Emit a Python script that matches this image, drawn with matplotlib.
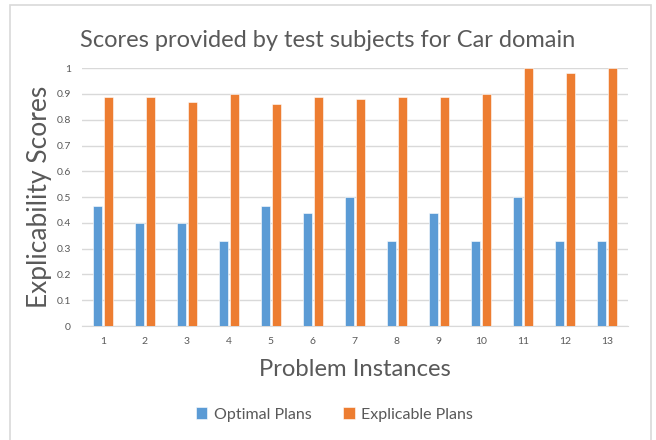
import matplotlib.pyplot as plt
import numpy as np
from matplotlib.patches import Rectangle

# Data
instances = ['1', '2', '3', '4', '5', '6', '7', '8', '9', '10', '11', '12', '13']
optimal = [0.467, 0.40, 0.40, 0.33, 0.467, 0.44, 0.50, 0.33, 0.44, 0.33, 0.50, 0.33, 0.33]
explicable = [0.89, 0.89, 0.87, 0.90, 0.86, 0.89, 0.88, 0.89, 0.89, 0.90, 1.00, 0.98, 1.00]

plt.rcParams['font.family'] = ['Lato', 'DejaVu Sans']
grey = '#595959'

fig = plt.figure(figsize=(6.56, 4.4), dpi=100)
ax = fig.add_axes([0.125, 0.259, 0.832, 0.586])

# Outer chart border like the Excel chart area
fig.patches.append(Rectangle((10 / 656, -0.01), 641 / 656, 1.01 - 5 / 440,
                             transform=fig.transFigure, fill=False,
                             edgecolor='#D9D9D9', linewidth=1.2))

x = np.arange(len(instances))
w = 0.22
ax.bar(x - 0.13, optimal, w, color='#5B9BD5', edgecolor='white', linewidth=0.4,
       label='Optimal Plans', zorder=3)
ax.bar(x + 0.13, explicable, w, color='#ED7D31', edgecolor='white', linewidth=0.4,
       label='Explicable Plans', zorder=3)

ax.set_xlim(-0.5, len(instances) - 0.5)
ax.set_ylim(0, 1.0)
ax.set_yticks(np.arange(0, 1.01, 0.1))
ax.set_yticklabels(['0', '0.1', '0.2', '0.3', '0.4', '0.5', '0.6', '0.7', '0.8', '0.9', '1'])
ax.set_xticks(x)
ax.set_xticklabels(instances)
ax.tick_params(length=0, labelsize=7.5, colors=grey, pad=8)
ax.yaxis.grid(True, color='#D9D9D9', linewidth=1, zorder=0)

for s in ['top', 'right', 'left']:
    ax.spines[s].set_visible(False)
ax.spines['bottom'].set_color('#D9D9D9')

fig.text(0.5, 0.908, 'Scores provided by test subjects for Car domain',
         fontsize=17, color=grey, ha='center', va='center')
ax.set_ylabel('Explicability Scores', fontsize=19, color=grey, labelpad=3)
ax.set_xlabel('Problem Instances', fontsize=17.2, color=grey, labelpad=9)

fig.legend(loc='center', bbox_to_anchor=(0.51, 0.058), ncol=2, frameon=False,
           fontsize=11.5, labelcolor=grey, handlelength=0.7, handleheight=0.7,
           columnspacing=2.0, handletextpad=0.4)

fig.savefig('out.png', dpi=100, facecolor='white')
